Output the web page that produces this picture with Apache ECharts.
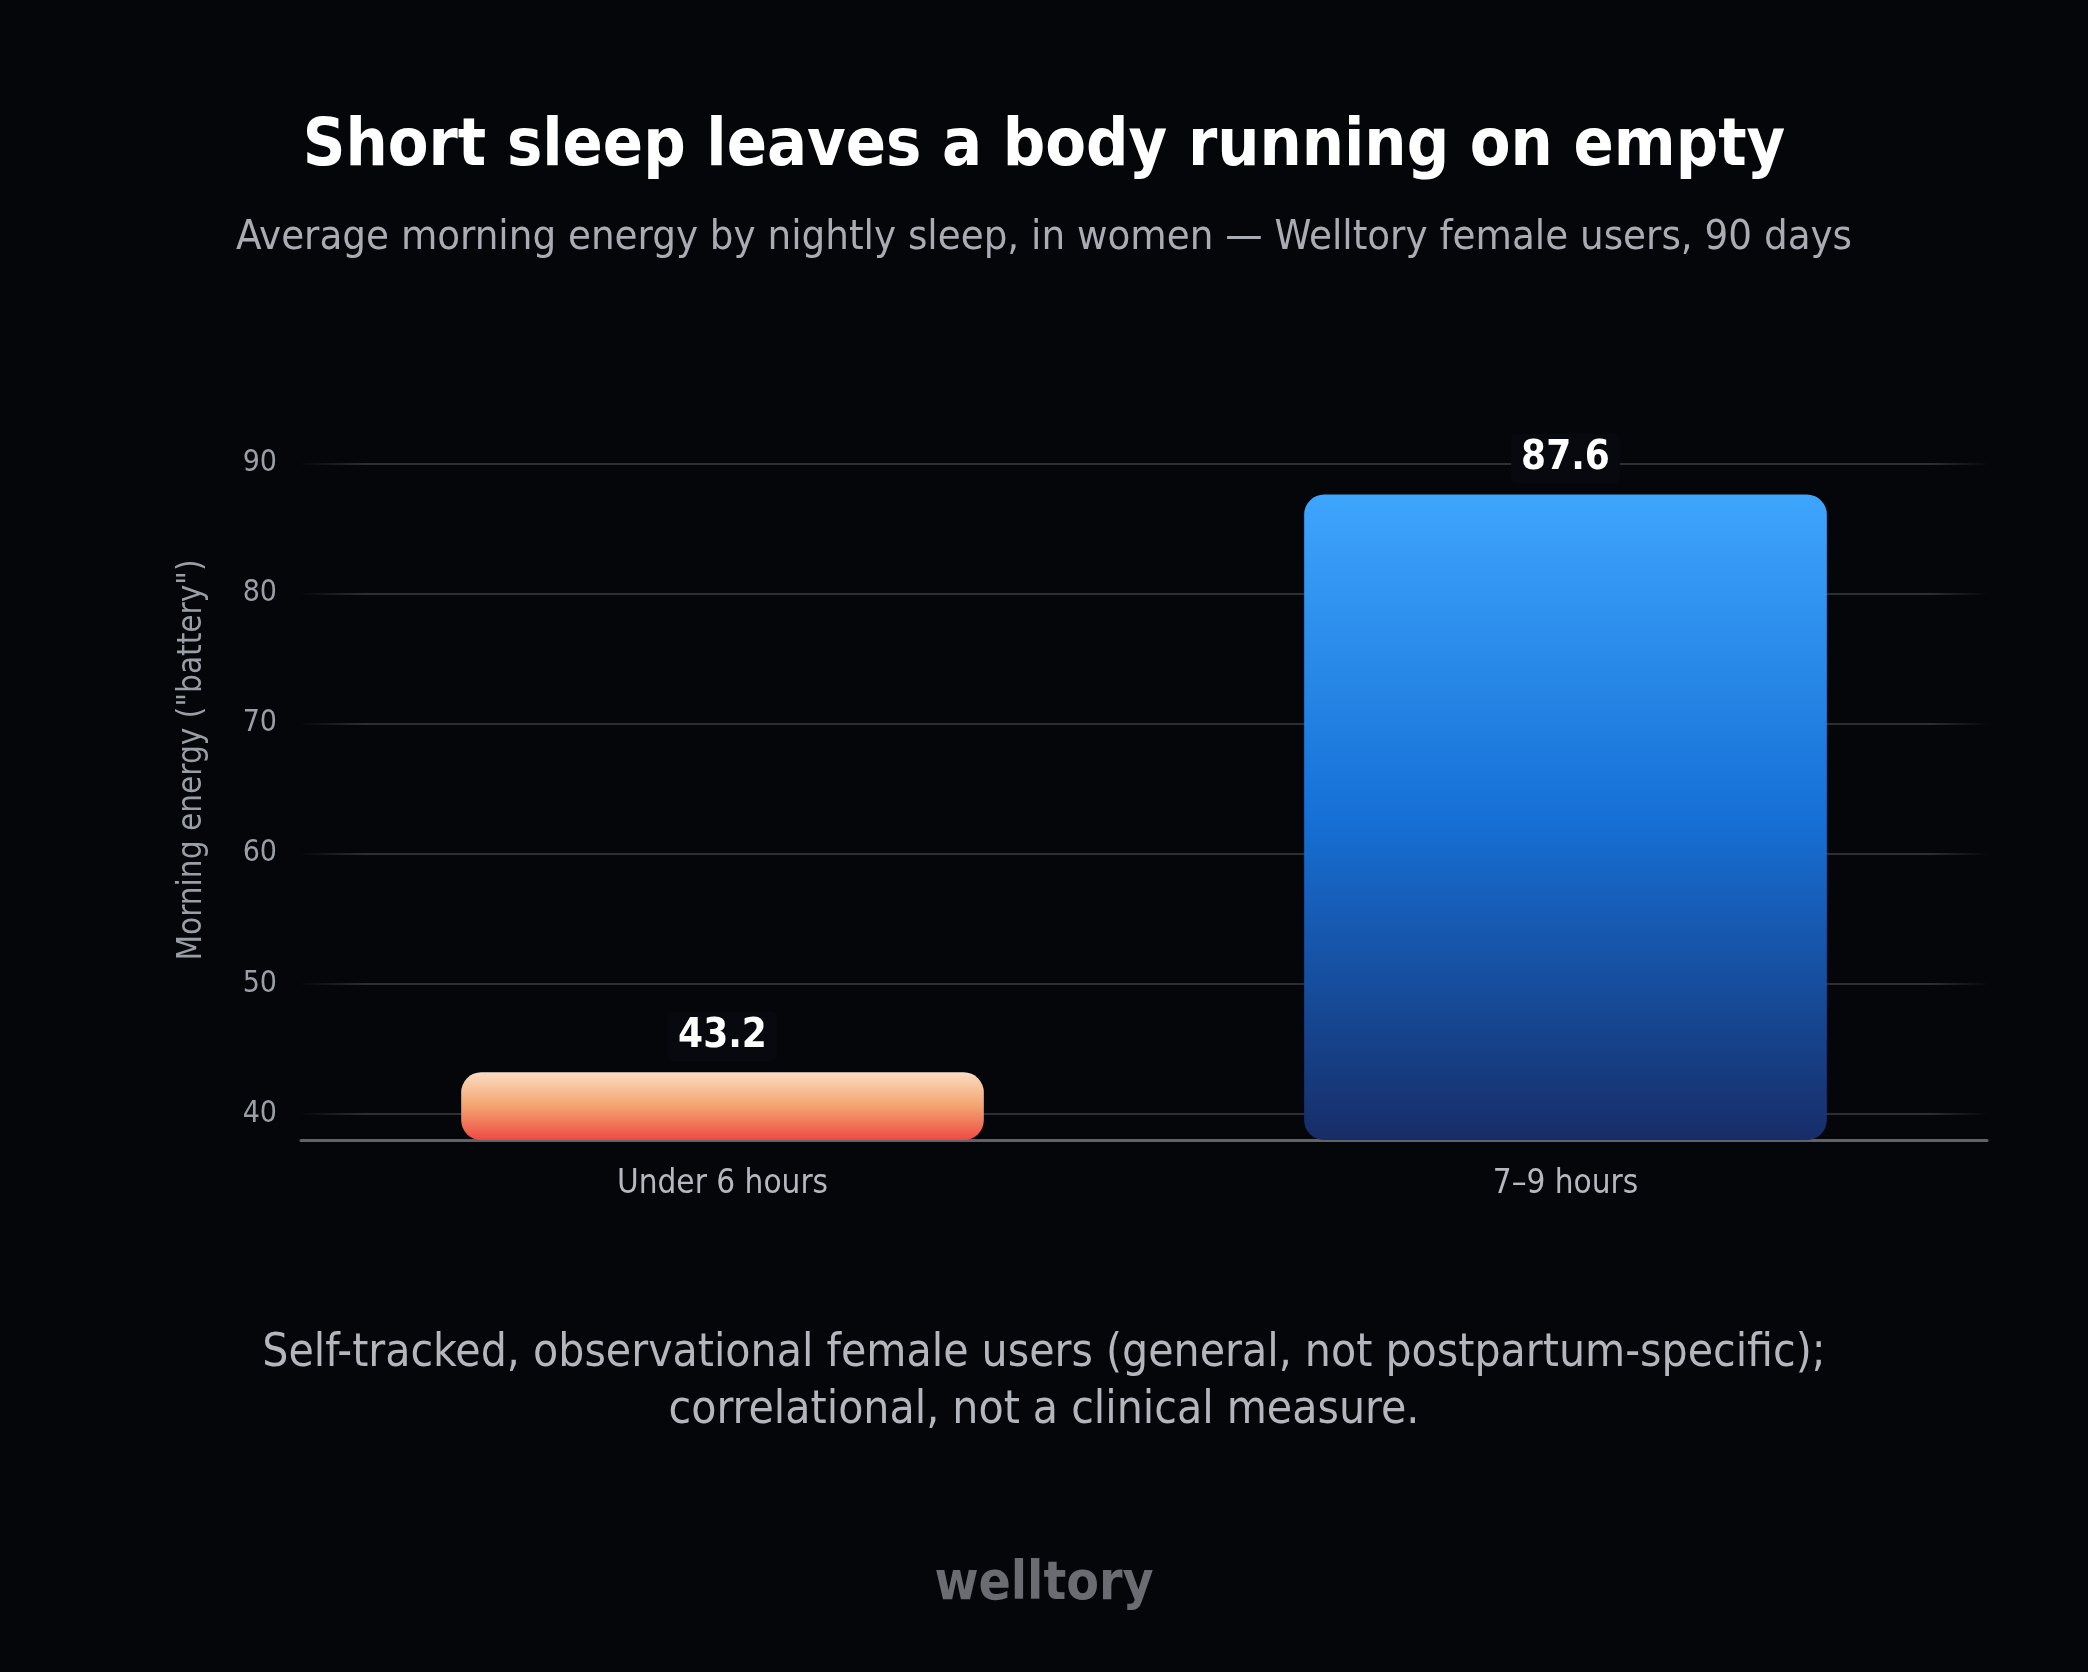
<!DOCTYPE html>
<html>
<head>
<meta charset="utf-8">
<style>
  html, body { margin: 0; padding: 0; background: #05060a; }
  #chart { width: 2088px; height: 1672px; }
</style>
<script src="https://cdn.jsdelivr.net/npm/echarts@6/dist/echarts.min.js"></script>
</head>
<body>
<div id="chart"></div>
<script>
const categories = ['Under 6 hours', '7–9 hours'];
const energyValues = [43.2, 87.6];
const yTickValues = [40, 50, 60, 70, 80, 90];
const yMin = 38;
const yMax = 96.4;

const titleText = 'Short sleep leaves a body running on empty';
const subtitleText = 'Average morning energy by nightly sleep, in women — Welltory female users, 90 days';
const yAxisName = 'Morning energy ("battery")';
const footnoteText = 'Self-tracked, observational female users (general, not postpartum-specific);\ncorrelational, not a clinical measure.';
const brandText = 'welltory';

const barGradients = [
  ['#fbdcc2', '#f2a46f', '#ef4a45'],
  ['#3ea5fd', '#1670d6', '#172d68']
];

const FONT = '"DejaVu Sans Condensed", "DejaVu Sans", sans-serif';

const chart = echarts.init(document.getElementById('chart'));

const seriesData = energyValues.map((v, i) => ({
  value: v,
  itemStyle: {
    color: new echarts.graphic.LinearGradient(0, 0, 0, 1, [
      { offset: 0, color: barGradients[i][0] },
      { offset: 0.5, color: barGradients[i][1] },
      { offset: 1, color: barGradients[i][2] }
    ])
  }
}));

const gridLineColor = new echarts.graphic.LinearGradient(0, 0, 1, 0, [
  { offset: 0, color: 'rgba(46,47,53,0)' },
  { offset: 0.04, color: 'rgba(46,47,53,1)' },
  { offset: 0.965, color: 'rgba(46,47,53,1)' },
  { offset: 1, color: 'rgba(46,47,53,0)' }
]);

chart.setOption({
  backgroundColor: '#05060a',
  animation: false,
  title: [
    {
      text: titleText,
      left: 'center',
      top: 108,
      textStyle: { color: '#ffffff', fontFamily: FONT, fontWeight: 'bold', fontSize: 66, lineHeight: 70 }
    },
    {
      text: subtitleText,
      left: 'center',
      top: 210,
      textStyle: { color: '#a9acb3', fontFamily: FONT, fontWeight: 'normal', fontSize: 41.5, lineHeight: 46 }
    },
    {
      text: footnoteText,
      left: 'center',
      top: 1321,
      textStyle: { color: '#b3b6bc', fontFamily: FONT, fontWeight: 'normal', fontSize: 45.8, lineHeight: 57 }
    },
    {
      text: brandText,
      left: 'center',
      top: 1552,
      textStyle: { color: '#6a6c71', fontFamily: FONT, fontWeight: 'bold', fontSize: 53, lineHeight: 56 }
    }
  ],
  grid: { left: 301, right: 101, top: 380, bottom: 532, containLabel: false },
  xAxis: {
    type: 'category',
    data: categories,
    axisLine: { show: true, lineStyle: { color: '#606267', width: 3 } },
    axisTick: { show: false },
    axisLabel: { color: '#b5b8be', fontFamily: FONT, fontSize: 33, margin: 28 },
    splitLine: { show: false }
  },
  yAxis: {
    type: 'value',
    min: yMin,
    max: yMax,
    name: yAxisName,
    nameLocation: 'middle',
    nameRotate: 90,
    nameGap: 92,
    nameTextStyle: { color: '#9a9ea6', fontFamily: FONT, fontSize: 33 },
    axisLine: { show: false },
    axisTick: { show: false, customValues: yTickValues },
    axisLabel: { color: '#9a9ea6', fontFamily: FONT, fontSize: 30, margin: 24, customValues: yTickValues },
    splitLine: { show: true, lineStyle: { color: gridLineColor, width: 2 } }
  },
  series: [{
    type: 'bar',
    data: seriesData,
    barWidth: '62%',
    itemStyle: { borderRadius: 20 },
    label: {
      show: true,
      position: 'top',
      distance: 11,
      color: '#ffffff',
      fontFamily: FONT,
      fontWeight: 'bold',
      fontSize: 40,
      lineHeight: 42,
      padding: [4, 10],
      backgroundColor: '#08090f',
      borderRadius: 6,
      formatter: p => p.value.toFixed(1)
    }
  }]
});
</script>
</body>
</html>
